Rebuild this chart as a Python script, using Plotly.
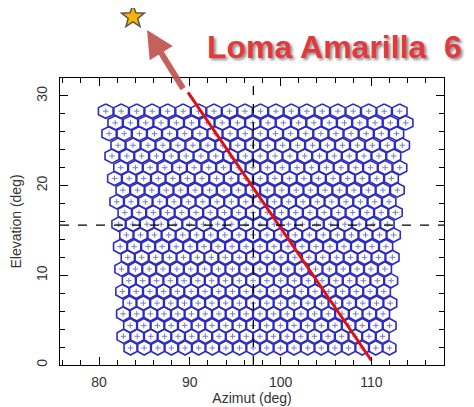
import math
import plotly.graph_objects as go

# ---- data ----
row_elev = [1.9, 3.2, 4.4, 5.7, 6.9, 8.2, 9.4, 10.7, 12.0, 13.2, 14.5,
            15.7, 17.0, 18.2, 19.5, 20.8, 22.0, 23.3, 24.5, 25.8, 27.0, 28.3]
row_az_left = [83.47, 82.70, 83.43, 82.65, 83.37, 82.57, 83.29, 82.47, 83.17, 82.33, 83.02,
               82.16, 82.84, 81.95, 82.63, 81.71, 82.39, 81.43, 82.10, 81.11, 81.78, 80.74]
row_az_step = [1.501, 1.502, 1.504, 1.507, 1.511, 1.516, 1.520, 1.527, 1.534, 1.541, 1.549,
               1.558, 1.569, 1.579, 1.591, 1.605, 1.618, 1.633, 1.648, 1.666, 1.684, 1.704]
n_cols = 20

track_az = [89.8, 110.0]
track_el = [30.4, 0.5]

axis_center_az = 97.0
axis_center_el = 15.6

label_text = "Loma Amarilla\u00a0 6"

x_ticks = [80, 90, 100, 110]
y_ticks = [0, 10, 20, 30]

# ---- build figure ----
hx, hy, cx, cy = [], [], [], []
angles = [90, 30, -30, -90, -150, 150, 90]
r = 0.82
for el, az0, st in zip(row_elev, row_az_left, row_az_step):
    for j in range(n_cols):
        az = az0 + j * st
        cx.append(az)
        cy.append(el)
        for a in angles:
            hx.append(az + r * math.cos(math.radians(a)) * st / 1.5)
            hy.append(el + r * math.sin(math.radians(a)) * 0.967)
        hx.append(None)
        hy.append(None)

fig = go.Figure()
fig.add_trace(go.Scatter(x=hx, y=hy, mode="lines",
                         line=dict(color="#2c2cc0", width=1.6),
                         hoverinfo="skip", showlegend=False))
fig.add_trace(go.Scatter(x=cx, y=cy, mode="markers",
                         marker=dict(symbol="cross-thin", size=4,
                                     line=dict(color="#7a7ad2", width=1)),
                         hoverinfo="skip", showlegend=False))
fig.add_trace(go.Scatter(x=track_az, y=track_el, mode="lines",
                         line=dict(color="#e01010", width=3),
                         showlegend=False))

fig.add_shape(type="line", x0=axis_center_az, x1=axis_center_az, y0=0, y1=1,
              xref="x", yref="paper", line=dict(color="black", width=1.3, dash="dash"))
fig.add_shape(type="line", x0=0, x1=1, y0=axis_center_el, y1=axis_center_el,
              xref="paper", yref="y", line=dict(color="black", width=1.3, dash="dash"))

# star marking the site (pixel-sized path anchored in paper coordinates)
pts = []
for k in range(10):
    rad = 12 if k % 2 == 0 else 5
    ang = math.radians(90 + 36 * k)
    pts.append((rad * math.cos(ang), rad * math.sin(ang)))
star_path = "M " + " L ".join(f"{px:.2f},{py:.2f}" for px, py in pts) + " Z"
fig.add_shape(type="path", path=star_path, xref="paper", yref="paper",
              xsizemode="pixel", ysizemode="pixel", xanchor=0.190, yanchor=1.213,
              fillcolor="#f7b500", line=dict(color="#555555", width=1.5), layer="above")

# arrow from track towards the site
fig.add_annotation(x=0.2266, y=1.167, xref="paper", yref="paper",
                   ax=37, ay=60, axref="pixel", ayref="pixel", text="",
                   showarrow=True, arrowhead=2, arrowsize=0.9, arrowwidth=6,
                   arrowcolor="rgba(190,80,75,0.9)")
fig.add_annotation(x=0.714, y=1.108, xref="paper", yref="paper",
                   xanchor="center", yanchor="middle",
                   text="<b>" + label_text + "</b>", showarrow=False,
                   font=dict(family="Liberation Sans", size=32, color="#e03a3e",
                             shadow="2px 2px 3px #888"))

axis_common = dict(showgrid=False, zeroline=False, showline=True, linecolor="black",
                   linewidth=1.2, mirror="ticks", ticks="inside", ticklen=8,
                   tickcolor="black", tickwidth=1.2, automargin=False,
                   tickfont=dict(family="Liberation Sans", size=14, color="#333"),
                   minor=dict(ticks="inside", ticklen=5, dtick=2, tickcolor="black",
                              tickwidth=1.2))
fig.update_xaxes(range=[75.7, 118], tickvals=x_ticks, ticklabelstandoff=4,
                 title=dict(text="Azimut (deg)", standoff=4,
                            font=dict(family="Liberation Sans", size=14, color="#333")),
                 **axis_common)
fig.update_yaxes(range=[0, 32], tickvals=y_ticks, tickangle=-90, ticklabelstandoff=6,
                 title=dict(text="Elevation (deg)", standoff=12,
                            font=dict(family="Liberation Sans", size=14, color="#333")),
                 **axis_common)

# the page body adds an 8 px offset, so the figure is 8 px smaller than the window
fig.update_layout(width=466, height=399, margin=dict(l=52, r=30, t=70, b=42),
                  plot_bgcolor="white", paper_bgcolor="white")

fig.write_html("out.html")
